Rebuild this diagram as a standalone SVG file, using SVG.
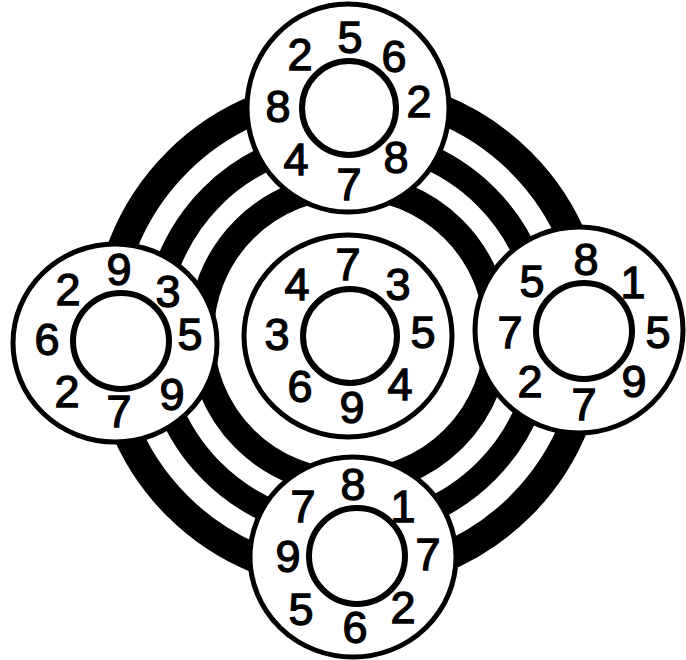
<svg xmlns="http://www.w3.org/2000/svg" width="686" height="660" viewBox="0 0 686 660">
<style>
  .band { fill: none; stroke: #000; }
  .outer { fill: #fff; stroke: #000; stroke-width: 5; }
  .inner { fill: #fff; stroke: #000; stroke-width: 6; }
  text { font-family: "Liberation Sans", Arial, sans-serif; font-size: 45px; fill: #000; stroke: #000; stroke-width: 1.3; text-anchor: middle; }
</style>
<rect width="686" height="660" fill="#fff"/>
<g id="rings">
  <circle class="band" cx="349" cy="334" r="243" stroke-width="29"/>
  <circle class="band" cx="349" cy="334" r="194" stroke-width="25"/>
  <circle class="band" cx="349" cy="334" r="148" stroke-width="26"/>
</g>
<g id="center">
  <ellipse class="outer" cx="348" cy="336" rx="104" ry="101"/>
  <circle class="inner" cx="350" cy="336" r="47"/>
  <text x="348" y="280">7</text>
  <text x="297" y="300">4</text>
  <text x="398" y="300">3</text>
  <text x="277" y="350">3</text>
  <text x="423" y="348">5</text>
  <text x="300" y="402">6</text>
  <text x="352" y="423">9</text>
  <text x="400" y="400">4</text>
</g>
<g id="top">
  <ellipse class="outer" cx="348" cy="108" rx="101" ry="104"/>
  <circle class="inner" cx="349" cy="108" r="47"/>
  <text x="350" y="53">5</text>
  <text x="300" y="70">2</text>
  <text x="394" y="72">6</text>
  <text x="278" y="122">8</text>
  <text x="419" y="117">2</text>
  <text x="296" y="175">4</text>
  <text x="396" y="173">8</text>
  <text x="349" y="200">7</text>
</g>
<g id="left">
  <ellipse class="outer" cx="115" cy="343" rx="102" ry="99"/>
  <circle class="inner" cx="121" cy="341" r="48"/>
  <text x="119" y="285">9</text>
  <text x="68" y="305">2</text>
  <text x="168" y="307">3</text>
  <text x="47" y="355">6</text>
  <text x="190" y="350">5</text>
  <text x="67" y="407">2</text>
  <text x="119" y="427">7</text>
  <text x="172" y="410">9</text>
</g>
<g id="right">
  <ellipse class="outer" cx="579" cy="330" rx="104" ry="103"/>
  <circle class="inner" cx="584" cy="331" r="48"/>
  <text x="586" y="275">8</text>
  <text x="532" y="297">5</text>
  <text x="633" y="298">1</text>
  <text x="510" y="348">7</text>
  <text x="658" y="348">5</text>
  <text x="530" y="397">2</text>
  <text x="584" y="420">7</text>
  <text x="634" y="397">9</text>
</g>
<g id="bottom">
  <ellipse class="outer" cx="353" cy="557" rx="103" ry="100"/>
  <circle class="inner" cx="357" cy="556" r="48"/>
  <text x="353" y="500">8</text>
  <text x="303" y="522">7</text>
  <text x="403" y="522">1</text>
  <text x="288" y="572">9</text>
  <text x="428" y="570">7</text>
  <text x="301" y="625">5</text>
  <text x="355" y="643">6</text>
  <text x="403" y="623">2</text>
</g>
</svg>
